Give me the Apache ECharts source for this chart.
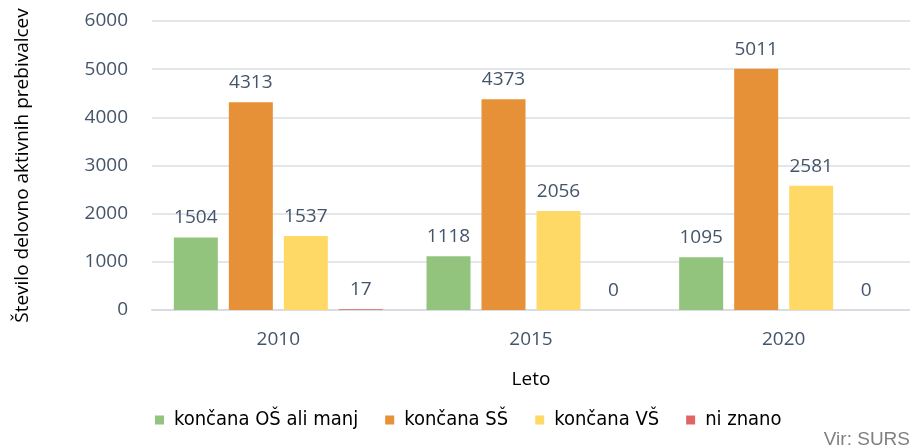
<!DOCTYPE html>
<html>
<head>
<meta charset="utf-8">
<script src="https://cdn.jsdelivr.net/npm/echarts@6/dist/echarts.min.js"></script>
<style>
  html, body { margin: 0; padding: 0; background: #fff; }
  #chart { width: 910px; height: 446px; }
</style>
</head>
<body>
<div id="chart"></div>
<script>
// Data
const years = ["2010", "2015", "2020"];
const osValues = [1504, 1118, 1095];
const ssValues = [4313, 4373, 5011];
const vsValues = [1537, 2056, 2581];
const unknownValues = [17, 0, 0];
const seriesNames = ["končana OŠ ali manj", "končana SŠ", "končana VŠ", "ni znano"];
const seriesColors = ["#93c47d", "#e69138", "#ffd966", "#e06666"];

const labelStyle = {
  show: true,
  position: "top",
  distance: 10,
  color: "#44546a",
  fontSize: 19,
  fontFamily: "Open Sans",
};

const makeSeries = (name, values, color) => ({
  name: name,
  type: "bar",
  data: values,
  barWidth: 44,
  barGap: "25%",
  itemStyle: { color: color },
  label: labelStyle,
});

const chart = echarts.init(document.getElementById("chart"));
chart.setOption({
  animation: false,
  grid: { left: 152, right: 0, top: 21, bottom: 136, outerBoundsMode: "none" },
  legend: {
    bottom: 11,
    left: 150,
    itemWidth: 9,
    itemHeight: 9,
    itemGap: 27,
    icon: "rect",
    textStyle: { fontFamily: "DejaVu Sans Condensed", fontSize: 20, color: "#000", padding: [0, 0, 0, 5] },
    data: seriesNames,
  },
  xAxis: {
    type: "category",
    data: years,
    name: "Leto",
    nameLocation: "middle",
    nameGap: 60,
    nameTextStyle: { fontFamily: "Open Sans", fontSize: 19, color: "#000" },
    axisLine: { lineStyle: { color: "#d9dde3", width: 2 } },
    axisTick: { show: false },
    axisLabel: { fontFamily: "Open Sans", fontSize: 19, color: "#44546a", margin: 20 },
  },
  yAxis: {
    type: "value",
    min: 0,
    max: 6000,
    interval: 1000,
    name: "Število delovno aktivnih prebivalcev",
    nameLocation: "middle",
    nameGap: 120,
    nameTextStyle: { fontFamily: "Open Sans", fontSize: 19, color: "#000" },
    axisLabel: {
      fontFamily: "Open Sans",
      fontSize: 19,
      color: "#44546a",
      margin: 24,
      formatter: (v) => String(v),
    },
    splitLine: { lineStyle: { color: "#e3e6eb", width: 2 } },
  },
  graphic: [
    {
      type: "text",
      right: 0,
      bottom: -3,
      style: { text: "Vir: SURS", fill: "#808080", font: "19px 'Liberation Sans'" },
    },
  ],
  series: [
    makeSeries(seriesNames[0], osValues, seriesColors[0]),
    makeSeries(seriesNames[1], ssValues, seriesColors[1]),
    makeSeries(seriesNames[2], vsValues, seriesColors[2]),
    makeSeries(seriesNames[3], unknownValues, seriesColors[3]),
  ],
});
</script>
</body>
</html>
